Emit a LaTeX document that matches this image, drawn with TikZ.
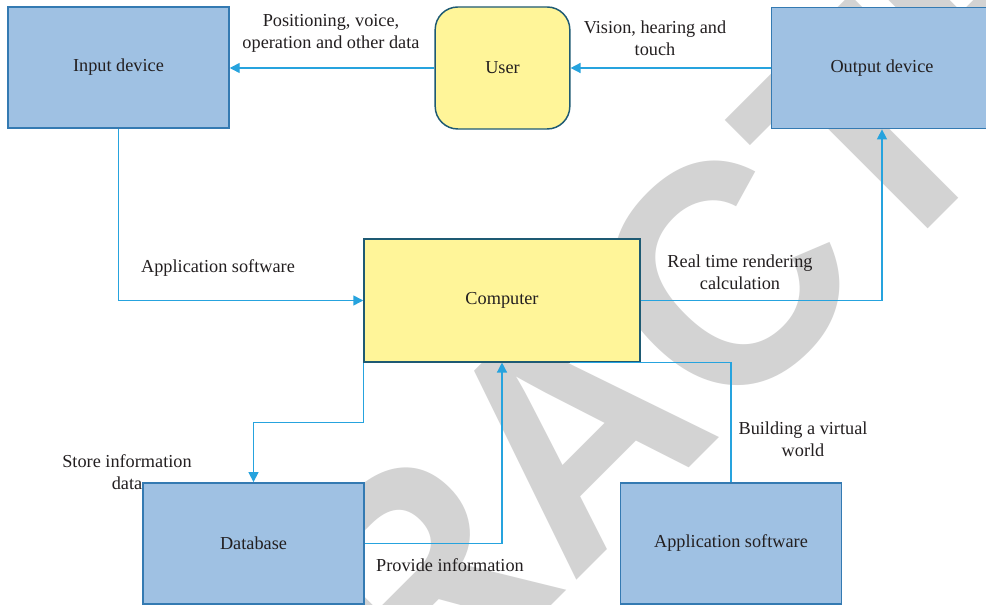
\documentclass[tikz,border=0pt]{standalone}
\usepackage{fontspec}
\setmainfont{Liberation Serif}
\newfontfamily\stampfont{Liberation Sans}
\usetikzlibrary{arrows.meta,calc}

\definecolor{boxblue}{RGB}{159,193,227}
\definecolor{boxblueedge}{RGB}{52,122,178}
\definecolor{boxyellow}{RGB}{255,245,153}
\definecolor{boxyellowedge}{RGB}{30,90,115}
\definecolor{linkblue}{RGB}{38,163,222}
\definecolor{inkgrey}{RGB}{35,31,32}
\definecolor{stampgrey}{RGB}{211,211,211}

\tikzset{
  every node/.style={text=inkgrey, font=\fontsize{13.7}{16.5}\selectfont},
  bluebox/.style={draw=boxblueedge, fill=boxblue, line width=1.1pt,
    minimum width=165.75pt, minimum height=91pt, inner sep=0pt},
  userbox/.style={draw=boxyellowedge, fill=boxyellow, line width=1.1pt,
    rounded corners=17pt, minimum width=101pt, minimum height=91.5pt, inner sep=0pt},
  compbox/.style={draw=boxyellowedge, fill=boxyellow, line width=1.1pt,
    minimum width=207pt, minimum height=92pt, inner sep=0pt},
  link/.style={draw=linkblue, line width=1.1pt},
  linkarrow/.style={link, -{Triangle[length=7.5pt,width=7.5pt]}},
  tag/.style={align=center, inner sep=0pt},
}

\begin{document}
\begin{tikzpicture}[x=0.75pt, y=-0.75pt]
  \clip (0,0) rectangle (986,605);
  \fill[white] (0,0) rectangle (986,605);

  % stamp lettering behind the diagram
  \begin{scope}[shift={(570,431)}, rotate=45, xscale=0.94]
    \node[transform shape, text=stampgrey, inner sep=0pt,
          font=\stampfont\bfseries\fontsize{240}{240}\selectfont]
          (stamp) at (0,0) {RETRACTED};
  \end{scope}

  % boxes
  \node[bluebox] (inp) at (118.5,67.5) {Input device};
  \node[userbox] (user) at (502.5,68) {User};
  \node[bluebox] (out) at (882,68) {Output device};
  \node[compbox] (comp) at (502,300.5) {Computer};
  \node[bluebox] (db) at (253.5,543.5) {Database};
  \node[bluebox] (app) at (731,543.5) {Application software};

  % connectors
  \draw[linkarrow] (user.west) -- (user.west -| inp.east);
  \draw[linkarrow] (out.west) -- (out.west -| user.east);
  \draw[linkarrow] (inp.south) |- (comp.west);
  \draw[linkarrow] (comp.east) -| (out.south);
  \draw[linkarrow] (comp.south west) -- ++(0,60) -| (db.north);
  \draw[linkarrow] (db.east) -| (comp.south);
  \coordinate (compfoot) at ($(comp.south west)!0.746!(comp.south east)$);
  \draw[link] (app.north) |- (compfoot);

  % connector labels
  \node[tag] (l1) at (331,33) {Positioning, voice,\\operation and other data};
  \node[tag] (l2) at (655,38) {Vision, hearing and\\touch};
  \node[tag] (l3) at (218,268) {Application software};
  \node[tag] (l4) at (740,272) {Real time rendering\\calculation};
  \node[tag] (l5) at (127,472) {Store information\\data};
  \node[tag] (l6) at (450,565) {Provide information};
  \node[tag] (l7) at (803,439) {Building a virtual\\world};
\end{tikzpicture}
\end{document}
